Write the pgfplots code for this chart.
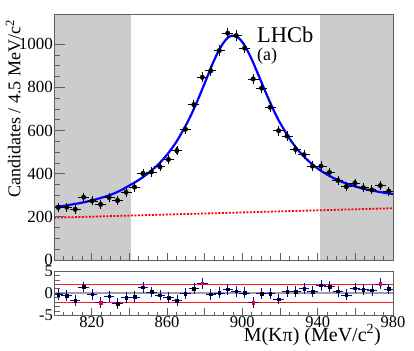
\documentclass[border=0pt]{standalone}
\usepackage{pgfplots}
\pgfplotsset{compat=1.18}
\usepackage{fontspec}
\setmainfont{Liberation Serif}

\definecolor{bandgray}{RGB}{204,204,204}
\definecolor{framegray}{RGB}{95,95,95}

% binned K pi mass spectrum (4.5 MeV bins)
\pgfplotstableread{
m n ey
802.25 244 14.7
806.75 245 14.7
811.25 235 14.7
815.75 291 15.0
820.25 274 14.9
824.75 258 14.8
829.25 290 15.0
833.75 276 14.9
838.25 314 15.1
842.75 338 15.2
847.25 401 15.5
851.75 408 15.5
856.25 432 15.7
860.75 466 15.8
865.25 507 16.0
869.75 606 16.5
874.25 720 17.1
878.75 847 17.7
883.25 877 17.9
887.75 970 18.4
892.25 1051 18.8
896.75 1040 18.7
901.25 982 18.4
905.75 839 17.7
910.25 797 17.5
914.75 708 17.0
919.25 599 16.5
923.75 575 16.4
928.25 513 16.1
932.75 488 15.9
937.25 435 15.7
941.75 435 15.7
946.25 406 15.5
950.75 369 15.3
955.25 340 15.2
959.75 356 15.3
964.25 335 15.2
968.75 325 15.1
973.25 345 15.2
977.75 319 15.1
}\datatable

% total fit, sampled
\pgfplotstableread{
m f
800 246
805 251
810 258
815 266
820 276
825 288
830 302
835 321
840 345
845 371
850 402
855 440
860 488
865 548
870 624
872.5 667
875 715
877.5 766
880 819
882.5 873
885 925
887.5 971
890 1007
892.5 1032
895 1040
897.5 1033
900 1010
902.5 974
905 930
907.5 879
910 827
912.5 775
915 725
917.5 678
920 636
925 563
930 505
935 460
940 424
945 396
950 373
955 355
960 341
965 329
970 320
975 312
980 306
}\fittable

% pulls
\pgfplotstableread{
m p
802.25 -0.30
806.75 -0.55
811.25 -1.70
815.75 1.45
820.25 -0.25
824.75 -2.15
829.25 -0.70
833.75 -2.30
838.25 -0.95
842.75 -0.80
847.25 1.35
851.75 0.30
856.25 -0.40
860.75 -1.00
865.25 -1.65
869.75 -0.10
874.25 1.10
878.75 2.30
883.25 -0.20
887.75 0.10
892.25 0.90
896.75 0.45
901.25 0.10
905.75 -2.10
910.25 -0.10
914.75 -0.10
919.25 -1.30
923.75 0.35
928.25 0.35
932.75 1.05
937.25 0.35
941.75 1.80
946.25 1.50
950.75 0.45
955.25 -0.35
959.75 1.20
964.25 0.80
968.75 0.70
973.25 2.15
977.75 1.00
}\pulltable

\pgfplotstableread{
m p
824.75 -2.15
878.75 2.30
905.75 -2.10
973.25 2.15
}\bigpulls

\pgfplotsset{
  rootstyle/.style={
    scale only axis,
    anchor=south west,
    width=339pt,
    xmin=800, xmax=980,
    axis on top,
    axis line style={framegray, line width=0.9pt},
    every tick/.style={framegray, line width=0.8pt},
    tick pos=left,
    tick align=inside,
    xtick={800,820,...,980},
    minor x tick num=3,
    xtick style={/pgfplots/major tick length=7pt, /pgfplots/minor tick length=3.5pt},
    ytick style={/pgfplots/major tick length=11pt, /pgfplots/minor tick length=5.5pt},
    tick label style={inner sep=1pt},
    /pgf/number format/assume math mode=true,
    /pgf/number format/1000 sep={},
  },
}

\begin{document}
\begin{tikzpicture}
\path[use as bounding box] (0,0) rectangle (414pt,350pt);

\begin{axis}[
  rootstyle,
  at={(54pt,90pt)},
  height=245.3pt,
  ymin=0, ymax=1137,
  xticklabels={},
  ytick={0,200,...,1000},
  minor y tick num=3,
  yticklabel style={font=\fontsize{17}{17}\selectfont},
]
  \addplot[fill=bandgray, draw=none, forget plot] coordinates {(800,1137) (840.7,1137)} \closedcycle;
  \addplot[fill=bandgray, draw=none, forget plot] coordinates {(941,1137) (980,1137)} \closedcycle;
  \addplot[red, line width=1.8pt, dash pattern=on 2pt off 1.5pt] coordinates {(800,196) (980,240)};
  \addplot[blue, line width=2.2pt, smooth] table[x=m, y=f] {\fittable};
  \addplot[only marks, mark=*, mark size=2.3pt, black, mark options={fill=black, draw=black},
    error bars/.cd, y dir=both, y explicit, x dir=both, x fixed=2.25,
    error bar style={black, line width=0.8pt},
    error mark options={black, mark size=1.3pt, line width=0.7pt}]
    table[x=m, y=n, y error=ey] {\datatable};
\end{axis}

\node[anchor=base west, inner sep=0pt, font=\fontsize{22.5}{22.5}\selectfont] at (257pt,307pt) {LHCb};
\node[anchor=base west, inner sep=0pt, font=\fontsize{18}{18}\selectfont] at (257pt,289.5pt) {(a)};

\node[rotate=90, anchor=base east, inner sep=0pt, font=\fontsize{18}{18}\selectfont] at (20.5pt,330pt)
  {Candidates / 4.5 MeV/c\textsuperscript{2}};

\begin{axis}[
  rootstyle,
  at={(54pt,34.7pt)},
  height=44pt,
  ymin=-5, ymax=5,
  ytick={-5,0,5},
  yticklabels={-5,0,5},
  minor y tick num=4,
  xticklabels={,820,,860,,900,,940,,980},
  tick label style={font=\fontsize{16.5}{16.5}\selectfont},
]
  \addplot[gray!75, line width=1.6pt] coordinates {(800,0) (980,0)};
  \addplot[red!90!white, line width=0.7pt] coordinates {(800,2) (980,2)};
  \addplot[red!90!white, line width=0.7pt] coordinates {(800,-2) (980,-2)};
  \addplot[only marks, mark=square*, mark size=1.3pt, black,
    error bars/.cd, y dir=both, y fixed=1, x dir=both, x fixed=2.25,
    error bar style={blue!80!black, line width=0.6pt},
    error mark options={blue!80!black, mark size=1pt, line width=0.6pt}]
    table[x=m, y=p] {\pulltable};
  \addplot[only marks, mark=square*, mark size=1.3pt, red] table[x=m, y=p] {\bigpulls};
\end{axis}

\node[anchor=base east, inner sep=0pt, font=\fontsize{20}{20}\selectfont] at (381pt,9pt)
  {M(Kπ) (MeV/c\textsuperscript{2})};
\end{tikzpicture}
\end{document}
